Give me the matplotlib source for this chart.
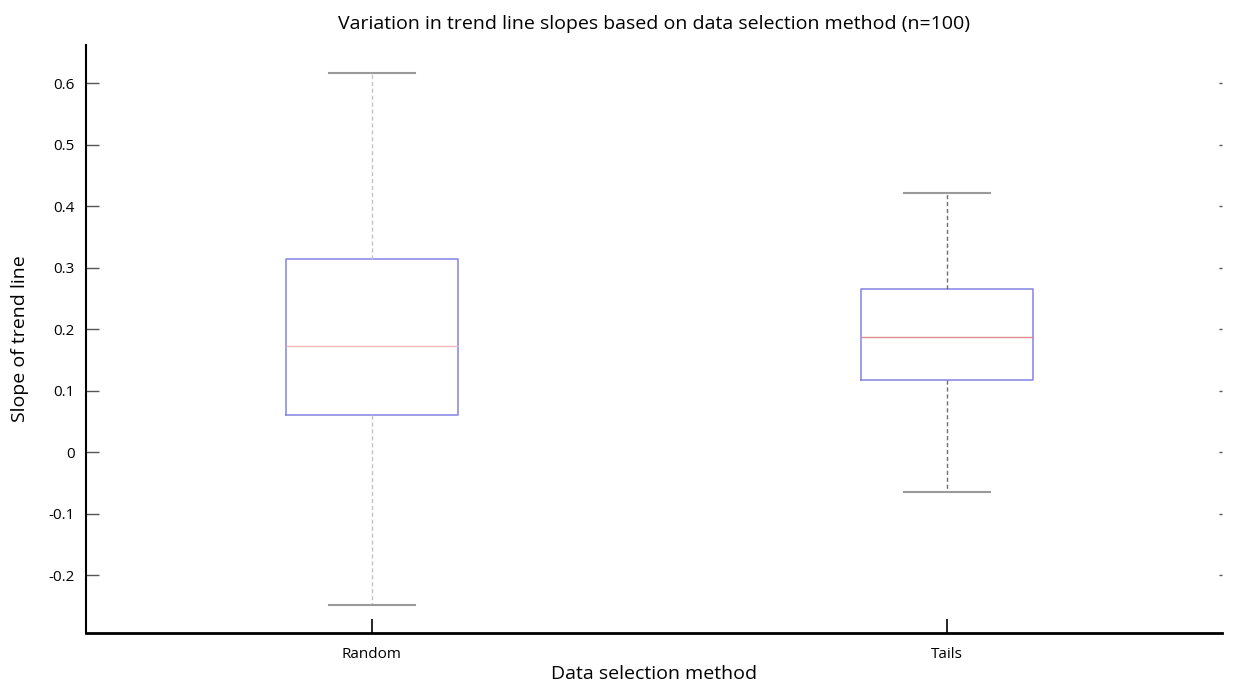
import matplotlib.pyplot as plt

# Box statistics
methods = ["Random", "Tails"]
whisker_low = [-0.248, -0.065]
q1 = [0.060, 0.117]
median = [0.172, 0.188]
q3 = [0.315, 0.265]
whisker_high = [0.617, 0.422]

yticks = [-0.2, -0.1, 0, 0.1, 0.2, 0.3, 0.4, 0.5, 0.6]
ytick_labels = ["-0.2", "-0.1", "0", "0.1", "0.2", "0.3", "0.4", "0.5", "0.6"]

plt.rcParams["font.family"] = ["Open Sans", "DejaVu Sans"]

fig = plt.figure(figsize=(12.34, 6.85), dpi=100)
ax = fig.add_axes([0.0697, 0.076, 0.9206, 0.858])

stats = []
for i, name in enumerate(methods):
    stats.append({"label": name, "whislo": whisker_low[i], "q1": q1[i],
                  "med": median[i], "q3": q3[i], "whishi": whisker_high[i]})

parts = ax.bxp(stats, positions=[1, 2], widths=0.3, showfliers=False,
               patch_artist=False, capwidths=0.15)

whisker_colors = ["#c4c4c4", "#6e6e6e"]
median_colors = ["#f0b8b8", "#e08a8a"]
for i in range(2):
    parts["boxes"][i].set_color("#8c8ce6")
    parts["boxes"][i].set_linewidth(1.2)
    parts["medians"][i].set_color(median_colors[i])
    parts["medians"][i].set_linewidth(1.0)
    for w in parts["whiskers"][2 * i:2 * i + 2]:
        w.set_color(whisker_colors[i])
        w.set_linestyle((0, (3, 2)))
        w.set_linewidth(1.0)
    for c in parts["caps"][2 * i:2 * i + 2]:
        c.set_color("#9a9a9a")
        c.set_linewidth(1.5)

ax.set_xlim(0.503, 2.478)
ax.set_ylim(-0.294, 0.662)
ax.set_yticks(yticks)
ax.set_yticklabels(ytick_labels)
ax.set_xticks([1, 2])
ax.set_xticklabels(methods)

ax.spines["top"].set_visible(False)
ax.spines["right"].set_visible(False)
ax.spines["left"].set_linewidth(1.5)
ax.spines["bottom"].set_linewidth(2)

ax.tick_params(axis="y", direction="in", length=9, width=1, color="#555555",
               labelsize=11, pad=8, right=True)
for t in ax.yaxis.get_ticklines()[1::2]:
    t.set_markersize(2)
    t.set_color("#cccccc")
ax.tick_params(axis="x", direction="in", length=10, width=1.2, color="black",
               labelsize=11, pad=10)

ax.set_title("Variation in trend line slopes based on data selection method (n=100)",
             fontsize=14, pad=12)
ax.set_xlabel("Data selection method", fontsize=14, labelpad=2)
ax.set_ylabel("Slope of trend line", fontsize=14, labelpad=14)

fig.savefig("out.png", dpi=100)
